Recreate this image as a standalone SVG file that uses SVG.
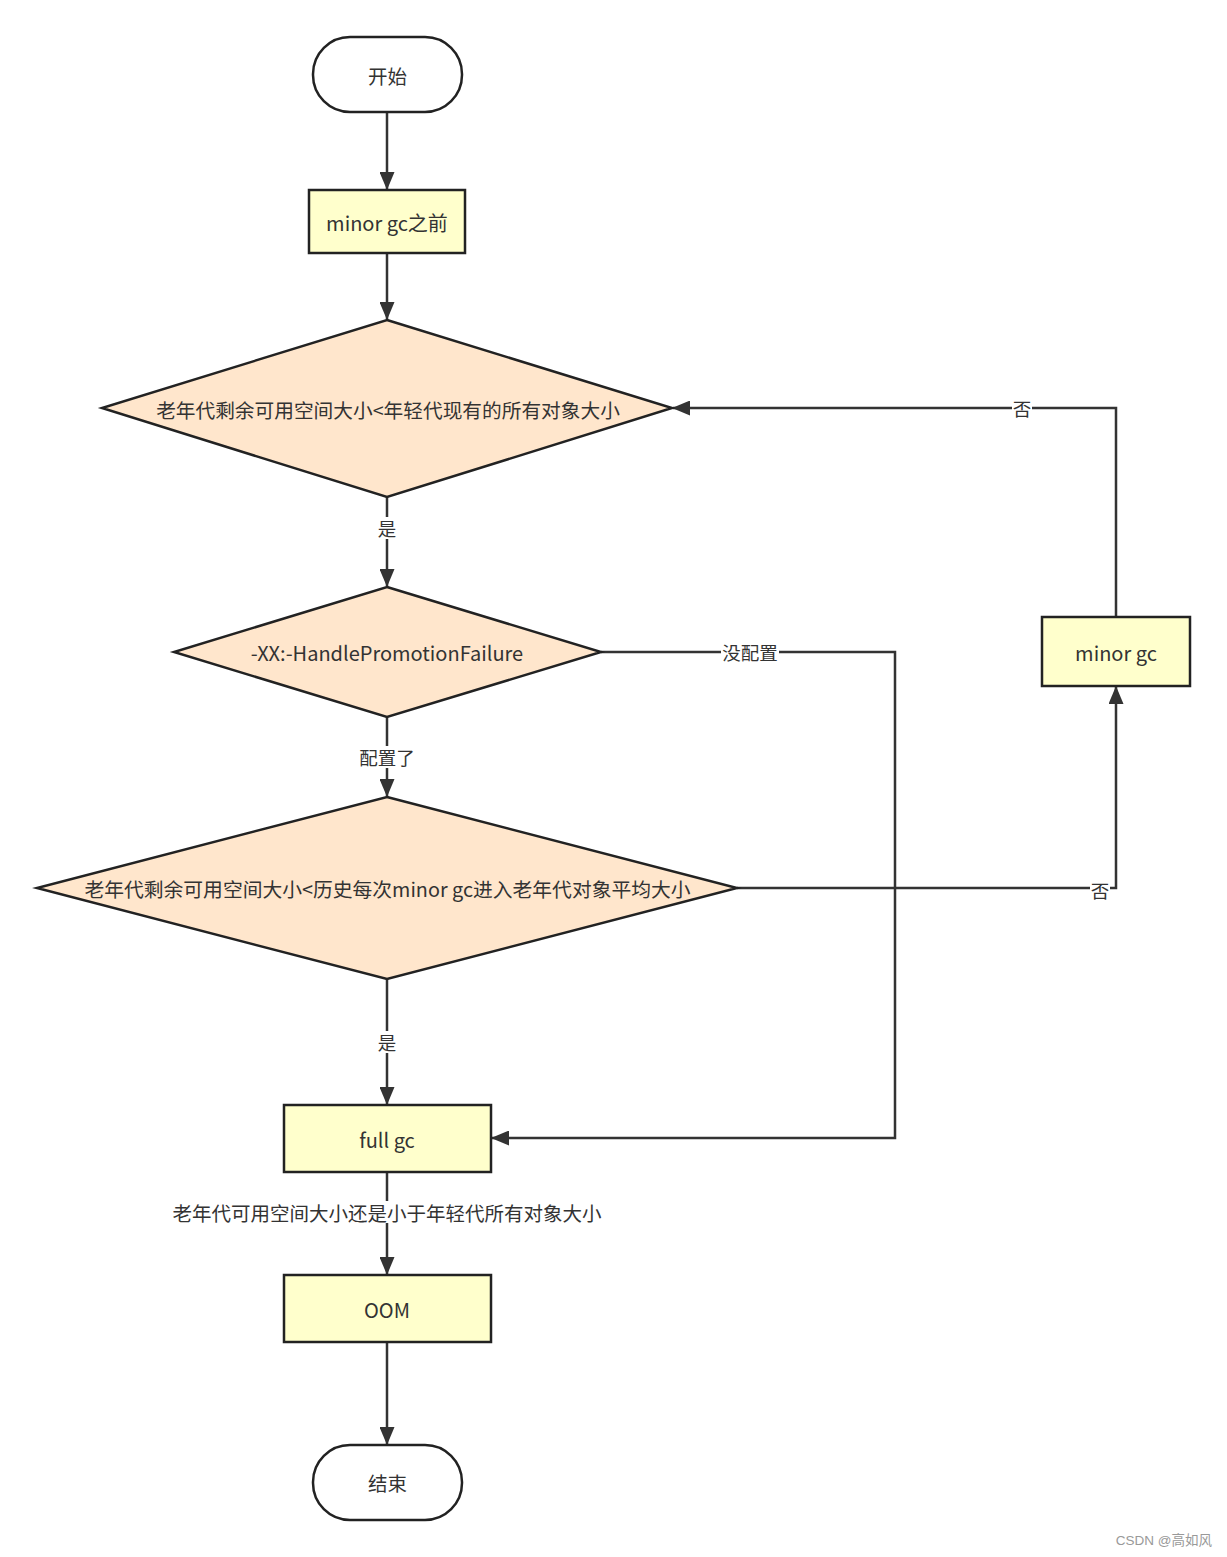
<svg xmlns="http://www.w3.org/2000/svg" width="1227" height="1557" viewBox="0 0 1227 1557">
<defs>
<style>
.term{fill:#fff;stroke:#222;stroke-width:2.5}
.proc{fill:#ffffcc;stroke:#222;stroke-width:2.5}
.dec{fill:#ffe6cc;stroke:#222;stroke-width:2.5}
.t{font-family:"Noto Sans CJK SC","Noto Sans",sans-serif;font-size:19.5px;fill:#333;text-anchor:middle;dominant-baseline:central}
.lbl{font-family:"Noto Sans CJK SC","Noto Sans",sans-serif;font-size:18.5px;fill:#333;text-anchor:middle;dominant-baseline:central}
.lb{fill:#fff}
.edge{fill:none;stroke:#333;stroke-width:2.5}
</style>
<marker id="arr" viewBox="0 0 18 15" refX="17" refY="7.5" markerWidth="18" markerHeight="15" markerUnits="userSpaceOnUse" orient="auto">
<path d="M0,0 L18,7.5 L0,15 Z" fill="#333"/>
</marker>
</defs>
<rect width="1227" height="1557" fill="#fff"/>
<g id="connectors">
<path class="edge" d="M387,112 V189" marker-end="url(#arr)"/>
<path class="edge" d="M387,253 V319" marker-end="url(#arr)"/>
<path class="edge" d="M387,497 V586" marker-end="url(#arr)"/>
<path class="edge" d="M387,717 V796" marker-end="url(#arr)"/>
<path class="edge" d="M387,979 V1104" marker-end="url(#arr)"/>
<path class="edge" d="M387,1172 V1274" marker-end="url(#arr)"/>
<path class="edge" d="M387,1342 V1444" marker-end="url(#arr)"/>
<path class="edge" d="M1116,617 V408 H673" marker-end="url(#arr)"/>
<path class="edge" d="M737,888 H1116 V687" marker-end="url(#arr)"/>
<path class="edge" d="M601,652 H895 V1138 H492" marker-end="url(#arr)"/>
<rect class="lb" x="377" y="517" width="20" height="22"/>
<text class="lbl" x="387" y="528">是</text>
<rect class="lb" x="358" y="746" width="58" height="22"/>
<text class="lbl" x="387" y="757">配置了</text>
<rect class="lb" x="377" y="1031" width="20" height="22"/>
<text class="lbl" x="387" y="1042">是</text>
<rect class="lb" x="172" y="1201" width="431" height="22"/>
<text class="lbl" x="387" y="1212" style="font-size:19.5px">老年代可用空间大小还是小于年轻代所有对象大小</text>
<rect class="lb" x="1012" y="397" width="20" height="22"/>
<text class="lbl" x="1022" y="408">否</text>
<rect class="lb" x="1090" y="879" width="20" height="22"/>
<text class="lbl" x="1100" y="890">否</text>
<rect class="lb" x="721" y="641" width="58" height="22"/>
<text class="lbl" x="750" y="652">没配置</text>
</g>
<g id="start">
<rect class="term" x="313" y="37" width="149" height="75" rx="37" ry="37"/>
<text class="t" x="387.5" y="75">开始</text>
</g>
<g id="before-minor-gc">
<rect class="proc" x="309" y="190" width="156" height="63"/>
<text class="t" x="387" y="222" style="font-size:20px">minor gc之前</text>
</g>
<g id="decision1">
<polygon class="dec" points="387,320 672,408 387,497 102,408"/>
<text class="t" x="388" y="409" style="font-size:19.7px">老年代剩余可用空间大小&lt;年轻代现有的所有对象大小</text>
</g>
<g id="decision2">
<polygon class="dec" points="387,587 601,652 387,717 174,652"/>
<text class="t" x="387" y="652" style="font-size:20px">-XX:-HandlePromotionFailure</text>
</g>
<g id="decision3">
<polygon class="dec" points="387,797 737,888 387,979 37,888"/>
<text class="t" x="387.5" y="888" style="font-size:19.8px">老年代剩余可用空间大小&lt;历史每次minor gc进入老年代对象平均大小</text>
</g>
<g id="minor-gc">
<rect class="proc" x="1042" y="617" width="148" height="69"/>
<text class="t" x="1116" y="652" style="font-size:20px">minor gc</text>
</g>
<g id="full-gc">
<rect class="proc" x="284" y="1105" width="207" height="67"/>
<text class="t" x="387" y="1139" style="font-size:20px">full gc</text>
</g>
<g id="oom">
<rect class="proc" x="284" y="1275" width="207" height="67"/>
<text class="t" x="387" y="1309" style="font-size:20px">OOM</text>
</g>
<g id="end">
<rect class="term" x="313" y="1445" width="149" height="75" rx="37" ry="37"/>
<text class="t" x="387.5" y="1482">结束</text>
</g>
<text x="1212" y="1540" font-family="'Liberation Sans','Noto Sans CJK SC',sans-serif" font-size="13.5" fill="#999" text-anchor="end" dominant-baseline="central">CSDN @高如风</text>
</svg>
